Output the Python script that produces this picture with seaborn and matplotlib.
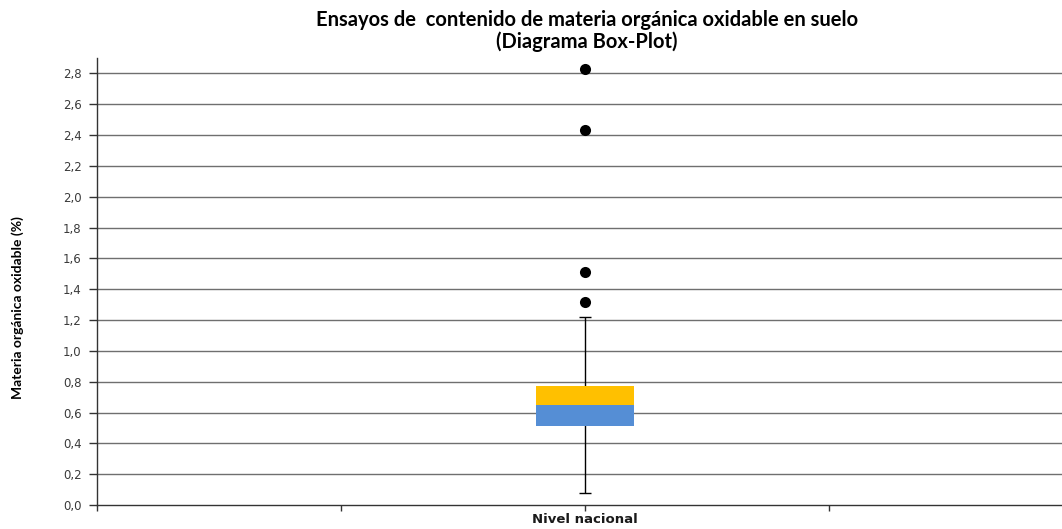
import matplotlib
matplotlib.use("Agg")
import matplotlib.pyplot as plt
import seaborn as sns
import pandas as pd

# Summary statistics of oxidisable organic matter (%)
categories = ["Nivel nacional"]
whisker_low = [0.08]
q1 = [0.51]
median = [0.65]
q3 = [0.77]
whisker_high = [1.22]
outliers = [1.32, 1.51, 2.435, 2.83]

y_ticks = [0.0, 0.2, 0.4, 0.6, 0.8, 1.0, 1.2, 1.4, 1.6, 1.8, 2.0, 2.2, 2.4, 2.6, 2.8]
y_tick_labels = [f"{v:.1f}".replace(".", ",") for v in y_ticks]

sns.set_theme(style="white")
plt.rcParams["font.family"] = ["DejaVu Sans"]

fig = plt.figure(figsize=(10.62, 5.29), dpi=100)
W, H = 1062, 529
ax = fig.add_axes([97 / W, 24 / H, (1073 - 97) / W, (505 - 58) / H])

boxes = pd.DataFrame({
    "cat": categories,
    "lower": [m - a for m, a in zip(median, q1)],
    "upper": [b - m for m, b in zip(median, q3)],
    "q1": q1,
    "median": median,
})

# whisker line (drawn under the box)
for i, c in enumerate(categories):
    ax.vlines(i, whisker_low[i], whisker_high[i], color="black", lw=1.0, zorder=2)
    ax.hlines([whisker_low[i], whisker_high[i]], i - 0.006, i + 0.006,
              color="black", lw=1.0, zorder=2)

# lower half of box: Q1 -> median, upper half: median -> Q3
sns.barplot(data=boxes, x="cat", y="lower", bottom=boxes["q1"], color="#558ED5",
            saturation=1, width=0.1, errorbar=None, ax=ax, zorder=3, linewidth=0)
sns.barplot(data=boxes, x="cat", y="upper", bottom=boxes["median"], color="#FFC000",
            saturation=1, width=0.1, errorbar=None, ax=ax, zorder=3, linewidth=0)

out_df = pd.DataFrame({"cat": [categories[0]] * len(outliers), "val": outliers})
sns.stripplot(data=out_df, x="cat", y="val", jitter=False, color="black",
              size=8, ax=ax, zorder=4)

ax.set_xlim(-0.5, 0.5)
ax.set_ylim(0, 2.9)
ax.set_yticks(y_ticks)
ax.set_yticklabels(y_tick_labels)
ax.set_xticks([-0.5, -0.25, 0, 0.25, 0.5])
ax.set_xticklabels(["", "", categories[0], "", ""])

for yv in y_ticks[1:]:
    ax.axhline(yv, color="#6f6f6f", lw=1.0, zorder=1)

for s in ["top", "right"]:
    ax.spines[s].set_visible(False)
for s in ["left", "bottom"]:
    ax.spines[s].set_color("#333333")
    ax.spines[s].set_linewidth(1.0)

ax.tick_params(axis="y", direction="out", length=6, width=1, color="#333333",
               labelsize=8.5, labelcolor="#3a3a3a", pad=5, left=True)
ax.tick_params(axis="x", direction="out", length=4, width=1, color="#333333",
               labelsize=9.5, labelcolor="#1a1a1a", pad=2, bottom=True)
for lbl in ax.get_xticklabels():
    lbl.set_fontweight("bold")

ax.set_xlabel("")
ax.set_ylabel("")

fig.text(18 / W, 1 - 308 / H, "Materia orgánica oxidable (%)", rotation=90,
         ha="center", va="center", fontsize=10, fontweight="bold",
         family=["Lato", "DejaVu Sans"], color="black")
fig.text(587 / W, 1 - 20 / H, "Ensayos de  contenido de materia orgánica oxidable en suelo",
         ha="center", va="center", fontsize=14.5, fontweight="bold",
         family=["Lato", "DejaVu Sans"], color="black")
fig.text(587 / W, 1 - 42 / H, "(Diagrama Box-Plot)",
         ha="center", va="center", fontsize=14.5, fontweight="bold",
         family=["Lato", "DejaVu Sans"], color="black")

fig.savefig("out.png", dpi=100)
